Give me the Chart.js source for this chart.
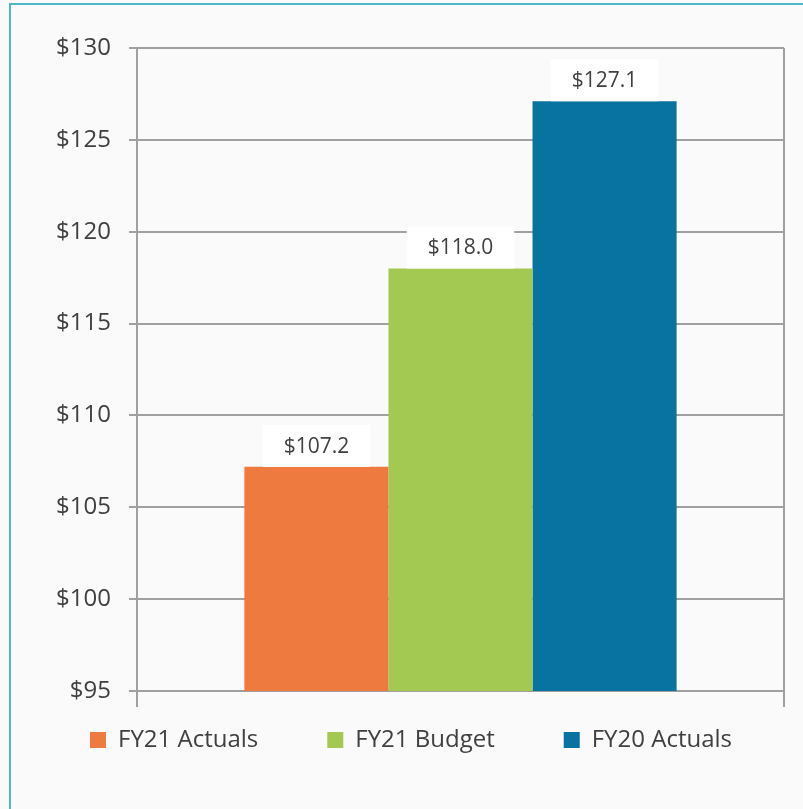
<!DOCTYPE html>
<html>
<head>
<meta charset="utf-8">
<script src="https://cdn.jsdelivr.net/npm/chart.js@4"></script>
<style>
  html, body { margin: 0; padding: 0; background: #fafafa; overflow: hidden; }
  #frame { position: absolute; left: 9px; top: 3px; width: 900px; height: 900px; border: 2px solid #4fb8c8; }
  #wrap { position: absolute; left: 0; top: 0; width: 803px; height: 809px; }
</style>
</head>
<body>
<div id="frame"></div>
<div id="wrap"><canvas id="chart" width="803" height="809"></canvas></div>
<script>
//chart data
const seriesNames = ["FY21 Actuals", "FY21 Budget", "FY20 Actuals"];
const seriesValues = [107.2, 118.0, 127.1];
const seriesColors = ["#ee7a40", "#a4c952", "#0872a1"];
const yMin = 95;
const yMax = 130;
const yStep = 5;

Chart.defaults.font.family = "'Open Sans', sans-serif";
Chart.defaults.color = "#404040";

//white boxes with the value above each bar
const valueLabels = {
  id: "valueLabels",
  afterDatasetsDraw(chart) {
    const ctx = chart.ctx;
    ctx.save();
    ctx.font = "21px 'Open Sans'";
    ctx.textAlign = "center";
    ctx.textBaseline = "middle";
    chart.data.datasets.forEach((ds, i) => {
      const bar = chart.getDatasetMeta(i).data[0];
      const text = "$" + ds.data[0].toFixed(1);
      const w = ctx.measureText(text).width + 42;
      const h = 42;
      ctx.fillStyle = "#ffffff";
      ctx.fillRect(bar.x - w / 2, bar.y - h, w, h);
      ctx.fillStyle = "#404040";
      ctx.fillText(text, bar.x, bar.y - h / 2 + 1);
    });
    ctx.restore();
  }
};

//move the legend up, right under the axis
const legendShift = {
  id: "legendShift",
  afterLayout(chart) {
    const lg = chart.legend;
    lg.top -= 48;
    lg.bottom = lg.top + 110;
  }
};

new Chart(document.getElementById("chart"), {
  type: "bar",
  data: {
    labels: [""],
    datasets: seriesNames.map((name, i) => ({
      label: name,
      data: [seriesValues[i]],
      backgroundColor: seriesColors[i],
      borderWidth: 0
    }))
  },
  options: {
    responsive: false,
    animation: false,
    categoryPercentage: 0.668,
    barPercentage: 1,
    layout: {
      padding: { top: 48, left: 19, right: 0, bottom: 42 }
    },
    plugins: {
      tooltip: { enabled: false },
      legend: {
        position: "bottom",
        maxHeight: 60,
        labels: {
          boxWidth: 16,
          boxHeight: 16,
          padding: 69,
          color: "#404040",
          font: { size: 24 }
        }
      }
    },
    scales: {
      x: {
        ticks: { display: false },
        grid: { color: "#a0a0a0", lineWidth: 2, tickLength: 16, offset: true },
        border: { display: false },
        afterFit(s) { s.height = 16; }
      },
      y: {
        min: yMin,
        max: yMax,
        ticks: {
          stepSize: yStep,
          padding: 18,
          color: "#404040",
          font: { size: 24 },
          callback: v => "$" + v
        },
        grid: { color: "#a0a0a0", lineWidth: 2, tickLength: 8 },
        border: { display: false },
        afterFit(s) { s.width = 118; }
      },
      //empty axis on the right, keeps the plot edge at the same place
      yRight: {
        type: "linear",
        position: "right",
        ticks: { display: false },
        grid: { display: false },
        border: { display: false },
        afterFit(s) { s.width = 19; }
      }
    }
  },
  plugins: [valueLabels, legendShift]
});
</script>
</body>
</html>
